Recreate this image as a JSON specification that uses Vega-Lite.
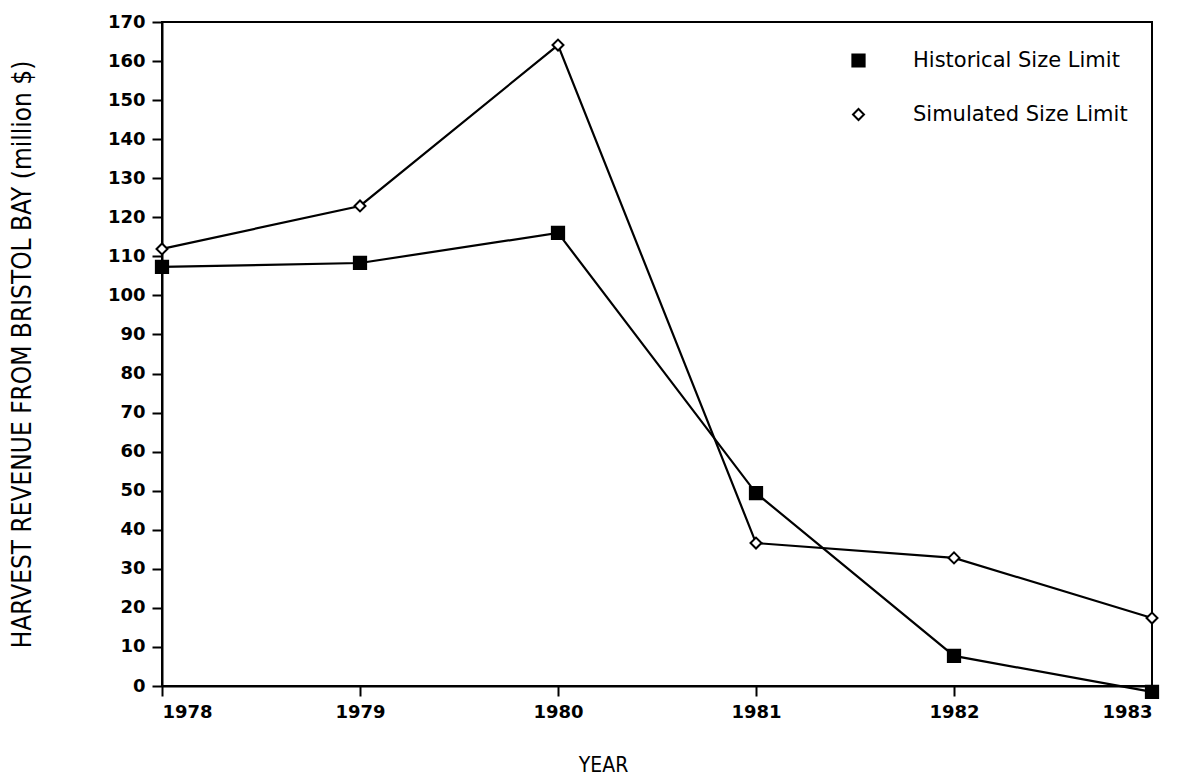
{
  "$schema": "https://vega.github.io/schema/vega-lite/v6.json",
  "autosize": "none",
  "width": 990,
  "height": 664,
  "padding": {"left": 162, "top": 22, "right": 32, "bottom": 89},
  "background": "white",
  "config": {
    "view": {"stroke": "black", "strokeWidth": 2},
    "axis": {"grid": false, "domainColor": "black", "domainWidth": 2, "tickColor": "black", "tickWidth": 2, "labelColor": "black", "titleColor": "black"}
  },
  "data": {
    "values": [
      {"year": 1978, "revenue": 107.3, "series": "Historical Size Limit"},
      {"year": 1979, "revenue": 108.3, "series": "Historical Size Limit"},
      {"year": 1980, "revenue": 116.0, "series": "Historical Size Limit"},
      {"year": 1981, "revenue": 49.4, "series": "Historical Size Limit"},
      {"year": 1982, "revenue": 7.7, "series": "Historical Size Limit"},
      {"year": 1983, "revenue": -1.5, "series": "Historical Size Limit"},
      {"year": 1978, "revenue": 111.9, "series": "Simulated Size Limit"},
      {"year": 1979, "revenue": 122.9, "series": "Simulated Size Limit"},
      {"year": 1980, "revenue": 164.1, "series": "Simulated Size Limit"},
      {"year": 1981, "revenue": 36.6, "series": "Simulated Size Limit"},
      {"year": 1982, "revenue": 32.8, "series": "Simulated Size Limit"},
      {"year": 1983, "revenue": 17.4, "series": "Simulated Size Limit"}
    ]
  },
  "encoding": {
    "x": {
      "field": "year", "type": "quantitative",
      "scale": {"domain": [1978, 1983], "nice": false, "zero": false},
      "axis": {
        "values": [1978, 1979, 1980, 1981, 1982, 1983], "format": "d",
        "title": "YEAR", "titleFont": "DejaVu Sans Condensed", "titleFontSize": 21, "titleFontWeight": "normal",
        "titleX": 441, "titleY": 79, "titleBaseline": "middle",
        "labelFont": "DejaVu Sans", "labelFontSize": 18, "labelFontWeight": "bold",
        "tickSize": 10, "labelPadding": 7
      }
    },
    "y": {
      "field": "revenue", "type": "quantitative",
      "scale": {"domain": [0, 170], "nice": false},
      "axis": {
        "values": [0, 10, 20, 30, 40, 50, 60, 70, 80, 90, 100, 110, 120, 130, 140, 150, 160, 170],
        "title": "HARVEST REVENUE FROM BRISTOL BAY (million $)",
        "titleFont": "DejaVu Sans Condensed", "titleFontSize": 26, "titleFontWeight": "normal",
        "titleX": -140, "titleY": 332, "titleAngle": -90, "titleAlign": "center", "titleBaseline": "middle",
        "labelFont": "DejaVu Sans", "labelFontSize": 18, "labelFontWeight": "bold",
        "tickSize": 10, "labelPadding": 7
      }
    }
  },
  "layer": [
    {
      "mark": {"type": "line", "color": "black", "strokeWidth": 2.2},
      "encoding": {"detail": {"field": "series"}}
    },
    {
      "mark": {"type": "point", "stroke": "black", "strokeWidth": 2, "opacity": 1},
      "encoding": {
        "shape": {"field": "series", "type": "nominal",
          "scale": {"domain": ["Historical Size Limit", "Simulated Size Limit"], "range": ["square", "diamond"]},
          "legend": {"title": null, "orient": "none", "legendX": 686, "legendY": 28,
            "labelFont": "DejaVu Sans", "labelFontSize": 21, "labelColor": "black", "labelLimit": 400,
            "symbolStrokeColor": "black", "symbolStrokeWidth": 2, "symbolSize": 110, "rowPadding": 32, "labelOffset": 44}},
        "fill": {"field": "series", "type": "nominal",
          "scale": {"domain": ["Historical Size Limit", "Simulated Size Limit"], "range": ["black", "white"]}},
        "size": {"field": "series", "type": "nominal",
          "scale": {"domain": ["Historical Size Limit", "Simulated Size Limit"], "range": [150, 120]}}
      }
    }
  ]
}
